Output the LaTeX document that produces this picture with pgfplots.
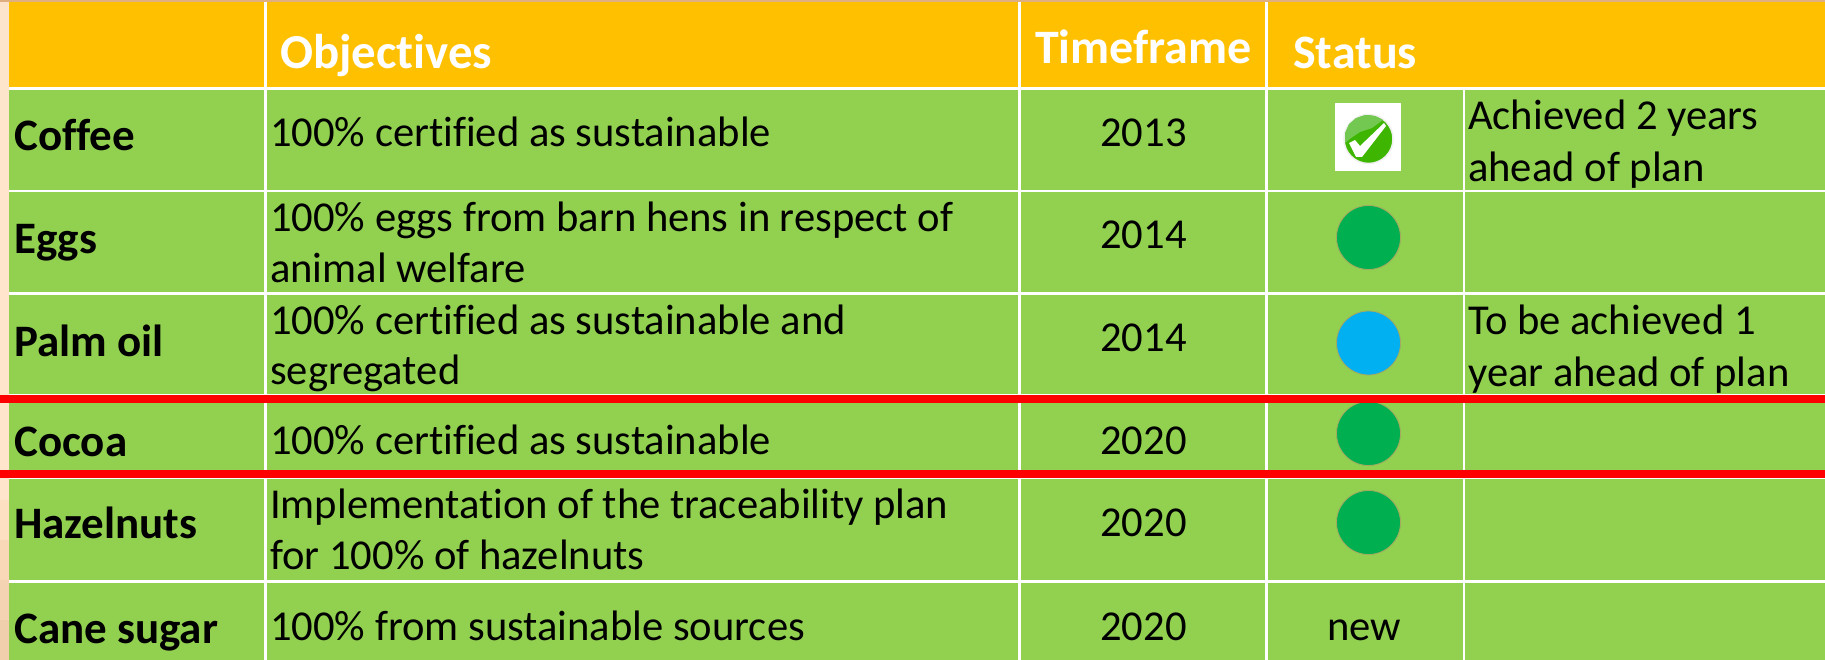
\documentclass[border=0pt]{standalone}
\usepackage{pgfplots}
\pgfplotsset{compat=1.18}
\usepackage{fontspec}
\setmainfont[Ligatures=NoCommon]{Carlito}

\definecolor{amber}{HTML}{FFC000}
\definecolor{leaf}{HTML}{92D050}
\definecolor{dotgreen}{HTML}{00B050}
\definecolor{dotblue}{HTML}{00B0F0}
\definecolor{dotedge}{HTML}{A8A860}
\definecolor{tickgreen}{HTML}{3EB500}
\definecolor{ticklight}{HTML}{72C850}

% filled rectangle: colour, x0, y0, x1, y1 (picture pixels, y downwards)
\newcommand{\rect}[5]{\addplot[draw=none,fill=#1] coordinates {(#2,#3) (#4,#3) (#4,#5) (#2,#5)} -- cycle;}
\newcommand{\body}[3]{\node[anchor=base west,inner sep=0pt,font=\fontsize{42.6}{51}\selectfont] at (axis cs:#1,#2) {#3};}
\newcommand{\bodyc}[3]{\node[anchor=base,inner sep=0pt,font=\fontsize{42.6}{51}\selectfont] at (axis cs:#1,#2) {#3};}
\newcommand{\name}[2]{\node[anchor=base west,inner sep=0pt,font=\fontsize{45}{51}\selectfont\bfseries] at (axis cs:14,#1) {#2};}
\newcommand{\head}[4]{\node[anchor=base west,inner sep=0pt,text=white,font=\fontsize{#4}{51}\selectfont\bfseries] at (axis cs:#1,#2) {#3};}

\begin{document}
\begin{tikzpicture}
\begin{axis}[
    scale only axis, width=1825pt, height=660pt,
    xmin=0, xmax=1825, ymin=0, ymax=660,
    y dir=reverse, hide axis, clip mode=individual]

  % background showing round the table
  \rect{black!8!orange!20!white}{0}{0}{9}{40}
  \rect{black!3!orange!20!white}{0}{40}{9}{120}
  \rect{orange!20!white}{0}{120}{9}{500}
  \rect{black!4!orange!24!white}{0}{500}{9}{540}
  \rect{black!9!orange!28!white}{0}{540}{9}{580}
  \rect{black!14!orange!30!white}{0}{580}{9}{620}
  \rect{black!18!orange!32!white}{0}{620}{9}{660}
  \rect{black!25!orange!50!white}{0}{0}{1825}{2}

  % table cells
  \rect{amber}{9}{2}{1825}{88}
  \rect{leaf}{9}{88}{1825}{660}

  % white rules
  \rect{white}{9}{87}{1825}{90}
  \rect{white}{9}{190}{1825}{192.5}
  \rect{white}{9}{292}{1825}{294.5}
  \rect{white}{9}{394}{1825}{396}
  \rect{white}{9}{476}{1825}{479}
  \rect{white}{9}{580}{1825}{582.5}
  \rect{white}{264}{2}{267}{660}
  \rect{white}{1018}{2}{1020.5}{660}
  \rect{white}{1265}{2}{1267.5}{660}
  \rect{white}{1462.5}{88}{1465}{660}

  % status dots
  \addplot[only marks, mark=*, mark size=32pt,
      mark options={fill=dotgreen, draw=dotedge, line width=0.8pt}]
    coordinates {(1368.5,237.5) (1368.5,433.5) (1368.5,522.5)};
  \addplot[only marks, mark=*, mark size=32pt,
      mark options={fill=dotblue, draw=dotedge, line width=0.8pt}]
    coordinates {(1368.5,343)};

  % achieved tick
  \rect{white}{1335}{103}{1401}{171}
  \addplot[only marks, mark=*, mark size=24.5pt,
      mark options={fill=tickgreen, draw=black!6, line width=1.5pt}]
    coordinates {(1368.5,139)};
  \addplot[draw=none, fill=ticklight] coordinates {
    (1345,143) (1345,133) (1349,124) (1356,118) (1365,115) (1375,116) (1383,120) (1372,128) (1360,132) (1351,138)} -- cycle;
  \addplot[draw=none, fill=white] coordinates {
    (1349,143) (1355,140) (1360,146) (1384,123) (1386,126) (1362,157) (1356,157)} -- cycle;

  % red marker lines
  \rect{red}{0}{395}{1825}{403.3}
  \rect{red}{0}{470}{1825}{478}

  % header
  \head{280}{69}{Objectives}{48.8}
  \head{1035}{64}{Timeframe}{48}
  \head{1293}{69}{Status}{48}

  % row names
  \name{151}{Coffee}
  \name{254}{Eggs}
  \name{356}{Palm oil}
  \name{456}{Cocoa}
  \name{538}{Hazelnuts}
  \name{643}{Cane sugar}

  % objectives
  \body{270}{147}{100\% certified as sustainable}
  \body{270}{232}{100\% eggs from barn hens in respect of}
  \body{270}{283}{animal welfare}
  \body{270}{334}{100\% certified as sustainable and}
  \body{270}{384}{segregated}
  \body{270}{454}{100\% certified as sustainable}
  \body{270}{518}{Implementation of the traceability plan}
  \body{270}{569}{for 100\% of hazelnuts}
  \body{270}{640}{100\% from sustainable sources}

  % timeframe
  \bodyc{1143.5}{147}{2013}
  \bodyc{1143.5}{249}{2014}
  \bodyc{1143.5}{351}{2014}
  \bodyc{1143.5}{454}{2020}
  \bodyc{1143.5}{536}{2020}
  \bodyc{1143.5}{640}{2020}

  % status text and comments
  \bodyc{1364}{640}{new}
  \body{1468}{130}{Achieved 2 years}
  \body{1468}{182}{ahead of plan}
  \body{1468}{334}{To be achieved 1}
  \body{1468}{386}{year ahead of plan}
\end{axis}
\end{tikzpicture}
\end{document}
